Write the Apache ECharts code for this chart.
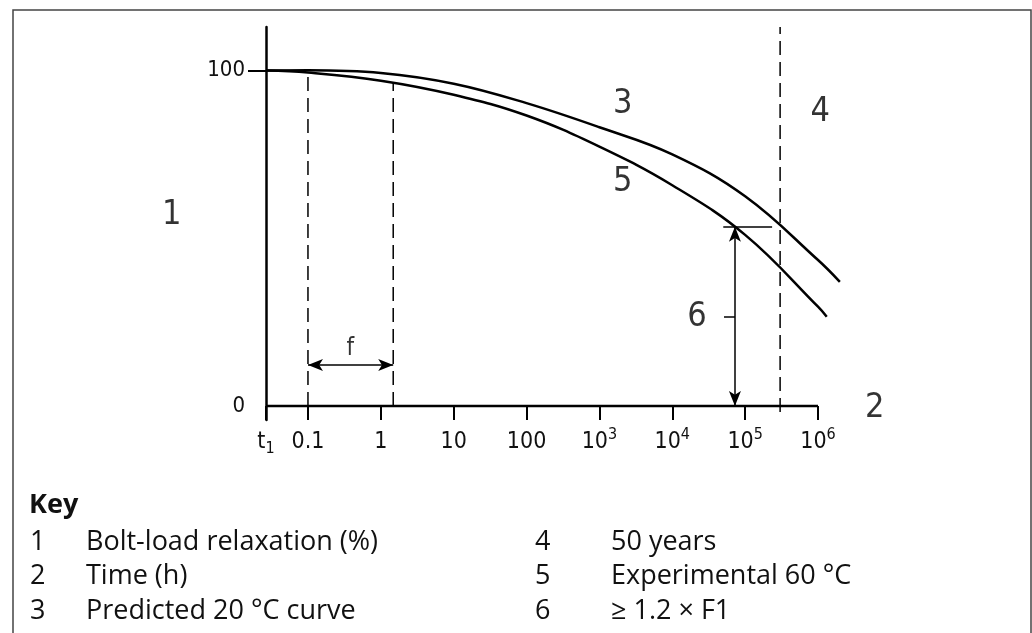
<!DOCTYPE html>
<html><head><meta charset="utf-8">
<script src="https://cdn.jsdelivr.net/npm/echarts@6/dist/echarts.min.js"></script>
<style>html,body{margin:0;padding:0;background:#fff}#c{width:1032px;height:633px}</style>
</head><body><div id="c"></div>
<script>
// x is log10(time in h); t1 sits at the origin of the axis
const xTickValues = [-1.576, -1, 0, 1, 2, 3, 4, 5, 6];
const xTickLabels = ['t|1', '0.1', '1', '10', '100', '10^3', '10^4', '10^5', '10^6'];
const yTickValues = [0, 100];
const yTickLabels = ['0', '100'];

// curve 3: predicted 20 °C
const curve3X = [-1.576, -1, 0, 1, 2, 3, 4, 5, 6, 6.30];
const curve3Y = [100, 100.1, 99.3, 96.1, 90.3, 83.1, 75.0, 62.5, 43.5, 37.0];
// curve 5: experimental 60 °C
const curve5X = [-1.576, -1, 0, 1, 2, 3, 4, 5, 6, 6.12];
const curve5Y = [100, 99.4, 97.0, 92.8, 86.6, 77.3, 65.8, 51.0, 29.6, 26.6];

// x axis baseline (time axis drawn from t1 to 10^6)
const baseX = [-1.576, 6];
const baseY = [0, 0];

// dashed verticals: x, yFrom, yTo
const dashX = [-1, 0.17, 5.48];
const dashFrom = [0, 0, -1.8];
const dashTo = [99.4, 96.4, 113];

// dimension f
const fFrom = -1, fTo = 0.17, fY = 12.2;
// dimension 6 (>= 1.2 x F1)
const d6X = 4.86, d6From = 0, d6To = 53.4;
const d6BarFrom = 4.70, d6BarTo = 5.37;
const d6LeaderFrom = 4.71, d6LeaderY = 26.6;

// callout numbers
const calloutX = [-2.87, 6.78, 3.32, 6.03, 3.32, 4.34, -0.42];
const calloutY = [57, -0.6, 89.9, 87.5, 66.6, 26.6, 17.0];
const calloutText = ['1', '2', '3', '4', '5', '6', 'f'];

// key
const keyNums = ['1', '2', '3', '4', '5', '6'];
const keyTexts = ['Bolt-load relaxation (%)', 'Time (h)', 'Predicted 20 °C curve', '50 years', 'Experimental 60 °C', '≥ 1.2 × F1'];

const TECH = '"DejaVu Sans Condensed", "DejaVu Sans", sans-serif';
const KEYF = '"Open Sans", "Noto Sans", sans-serif';

function zip(a, b) { return a.map((v, i) => [v, b[i]]); }

const chart = echarts.init(document.getElementById('c'), null, { renderer: 'canvas' });

const keyGraphics = [];
keyGraphics.push({ type: 'text', style: { x: 29, y: 505, verticalAlign: 'middle', text: 'Key', font: 'bold 27px ' + KEYF, fill: '#111' } });
keyNums.forEach((n, i) => {
  const col = i < 3 ? 0 : 1;
  const row = i % 3;
  const y = 542 + row * 34.5;
  keyGraphics.push({ type: 'text', style: { x: col ? 535 : 30, y: y, verticalAlign: 'middle', text: n, font: '27px ' + KEYF, fill: '#111' } });
  keyGraphics.push({ type: 'text', style: { x: col ? 611 : 86, y: y, verticalAlign: 'middle', text: keyTexts[i], font: '27px ' + KEYF, fill: '#111' } });
});

const lineBase = { type: 'line', symbol: 'none', clip: false, silent: true };

const dashSeries = dashX.map((x, i) => Object.assign({}, lineBase, {
  data: [[x, dashFrom[i]], [x, dashTo[i]]],
  lineStyle: { color: '#000', width: 1.5, type: [14, 7] }
}));

const option = {
  animation: false,
  backgroundColor: '#fff',
  grid: { left: 266, right: 188.5, top: 27, bottom: 213, containLabel: false },
  xAxis: {
    type: 'value', min: -1.576, max: 6.35,
    splitLine: { show: false },
    axisLine: { show: false, onZero: false },
    axisTick: { show: true, inside: true, customValues: xTickValues, length: 14, lineStyle: { color: '#000', width: 2 } },
    axisLabel: {
      show: true, customValues: xTickValues, margin: 7,
      color: '#111', fontFamily: TECH, fontSize: 23,
      formatter: function (v) {
        let i = xTickValues.findIndex(t => Math.abs(t - v) < 1e-6);
        if (i < 0) return '';
        const s = xTickLabels[i];
        if (s.indexOf('^') >= 0) { const p = s.split('^'); return '{b|' + p[0] + '}{sup|' + p[1] + '}'; }
        if (s.indexOf('|') >= 0) { const p = s.split('|'); return '{b|' + p[0] + '}{sub|' + p[1] + '}'; }
        return '{b|' + s + '}';
      },
      rich: {
        b: { fontFamily: TECH, fontSize: 23, lineHeight: 30, color: '#111' },
        sup: { fontFamily: TECH, fontSize: 16, lineHeight: 16, verticalAlign: 'top', color: '#111' },
        sub: { fontFamily: TECH, fontSize: 16, lineHeight: 16, verticalAlign: 'bottom', color: '#111' }
      }
    }
  },
  yAxis: {
    type: 'value', min: -4.2, max: 113,
    splitLine: { show: false },
    axisLine: { show: true, onZero: false, lineStyle: { color: '#000', width: 2.5 } },
    axisTick: { show: true, customValues: [100], length: 18, lineStyle: { color: '#000', width: 2 } },
    axisLabel: {
      show: true, customValues: yTickValues, margin: 21,
      color: '#111', fontFamily: TECH, fontSize: 22,
      formatter: function (v) { const i = yTickValues.indexOf(v); return i >= 0 ? yTickLabels[i] : ''; }
    }
  },
  graphic: [
    { type: 'rect', shape: { x: 13, y: 10, width: 1018, height: 700 }, style: { fill: 'none', stroke: '#444', lineWidth: 1.5 }, silent: true }
  ].concat(keyGraphics),
  series: [
    Object.assign({}, lineBase, { data: zip(baseX, baseY), lineStyle: { color: '#000', width: 2.5 } }),
    Object.assign({}, lineBase, { data: zip(curve3X, curve3Y), smooth: 0.4, lineStyle: { color: '#000', width: 2.5 } }),
    Object.assign({}, lineBase, { data: zip(curve5X, curve5Y), smooth: 0.4, lineStyle: { color: '#000', width: 2.5 } })
  ].concat(dashSeries).concat([
    {
      type: 'line', data: [], symbol: 'none', clip: false,
      markLine: { silent: true, symbol: ['arrow', 'arrow'], symbolSize: [9, 15], label: { show: false },
        lineStyle: { color: '#000', width: 1.5, type: 'solid' },
        data: [
          [{ coord: [fFrom, fY] }, { coord: [fTo, fY] }],
          [{ coord: [d6X, d6From] }, { coord: [d6X, d6To] }]
        ] }
    },
    {
      type: 'line', data: [], symbol: 'none', clip: false,
      markLine: { silent: true, symbol: ['none', 'none'], label: { show: false },
        lineStyle: { color: '#000', width: 1.5, type: 'solid' },
        data: [
          [{ coord: [d6BarFrom, d6To] }, { coord: [d6BarTo, d6To] }],
          [{ coord: [d6LeaderFrom, d6LeaderY] }, { coord: [d6X, d6LeaderY] }]
        ] }
    },
    {
      type: 'scatter', symbolSize: 0, clip: false, silent: true,
      data: calloutX.map((x, i) => ({ value: [x, calloutY[i]], label: { formatter: calloutText[i], fontSize: calloutText[i] === 'f' ? 24 : 34 } })),
      label: { show: true, position: 'inside', color: '#000', fontFamily: TECH }
    }
  ])
};
chart.setOption(option);
</script></body></html>
